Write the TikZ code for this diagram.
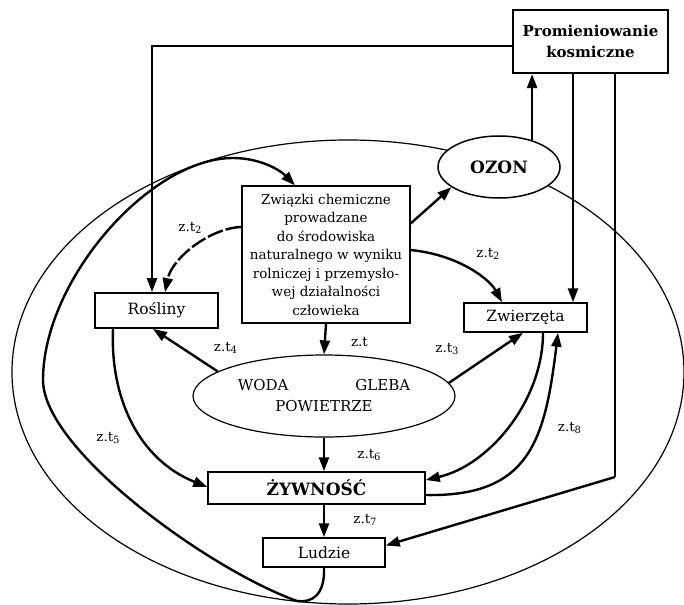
\documentclass[tikz,border=0pt]{standalone}
\usepackage{fontspec}
\setmainfont{DejaVu Serif}
\usetikzlibrary{arrows.meta,shapes.geometric}

% label "z.t" with a small index digit
\newcommand\ztlab[1]{z.t\raisebox{-1.2pt}{\fontsize{10}{10}\selectfont #1}}

\begin{document}
\begin{tikzpicture}[x=1pt,y=1pt,
  box/.style={draw,line width=1.3pt,inner sep=0pt,align=center},
  arr/.style={line width=2.4pt,-{Triangle[length=14pt,width=10pt]}},
  thickline/.style={line width=2.4pt},
  thinline/.style={line width=1.2pt},
  lab/.style={font=\fontsize{13.5}{14}\selectfont,inner sep=0pt},
  txt/.style={font=\fontsize{15.5}{18}\selectfont}]

\useasboundingbox (0,0) rectangle (684,-604);

% outer loop of the environment
\begin{scope}
  \clip (0,0) rectangle (684,-604);
  \draw[thinline] (348,-372) ellipse [x radius=336, y radius=232];
\end{scope}

% nodes
\node[box,line width=2.2pt,minimum width=155pt,minimum height=63pt,
      font=\bfseries\fontsize{15}{21}\selectfont] (prom) at (590.5,-41.5)
      {Promieniowanie\\kosmiczne};
\node[draw,ellipse,fill=white,line width=1.5pt,inner sep=0pt,
      minimum width=122pt,minimum height=62pt,
      font=\bfseries\fontsize{17}{20}\selectfont] (ozon) at (499,-167) {OZON};
\node[box,line width=1.3pt,minimum width=168pt,minimum height=137pt,
      font=\fontsize{13.5}{18.5}\selectfont] (chem) at (326,-254.5)
      {Związki chemiczne\\prowadzane\\do środowiska\\naturalnego w wyniku\\
       rolniczej i przemysło-\\wej działalności\\człowieka};
\node[box,line width=1.8pt,minimum width=123pt,minimum height=35pt,txt] (ros) at (156.5,-310.5) {Rośliny};
\node[box,line width=1.5pt,minimum width=123pt,minimum height=29pt,txt] (zw) at (525.5,-317.5) {Zwierzęta};
\node[draw,ellipse,line width=1.2pt,inner sep=0pt,minimum width=262pt,minimum height=82pt,
      align=center,font=\fontsize{15}{21}\selectfont] (env) at (324,-396)
      {WODA\hspace{67pt}GLEBA\\POWIETRZE};
\node[box,line width=1.5pt,minimum width=217pt,minimum height=32pt,
      font=\bfseries\fontsize{17}{20}\selectfont] (zyw) at (316.5,-488) {ŻYWNOŚĆ};
\node[box,line width=1.5pt,minimum width=122pt,minimum height=29pt,txt] (lud) at (324,-552.5) {Ludzie};

% helper points for the elbow lines
\coordinate (cl) at (152,-46);
\coordinate (xz) at (573,0);
\coordinate (cr) at (615,-477);

% radiation lines
\draw[thinline] ([yshift=-4.5pt]prom.west) -- (cl);
\draw[arr] ([yshift=0.6pt]cl) -- (ros.north -| cl);
\draw[arr] (ozon.39.5) -- (ozon.39.5 |- prom.south);
\draw[arr] (prom.south -| xz) -- (zw.north -| xz);
\draw[thinline] (prom.south -| cr) -- (cr);
\draw[arr] (cr) -- ([yshift=7pt]lud.east);

% chemicals
\draw[arr] ([yshift=31pt]chem.east) -- (ozon.203);
\draw[arr] ([yshift=4.5pt]chem.east) .. controls (460,-255) and (490,-280) .. ([xshift=-23.5pt]zw.north);
\draw[arr,dash pattern=on 16pt off 3pt] ([yshift=27.5pt]chem.west) .. controls (210,-228) and (172,-258) .. ([xshift=8.5pt]ros.north);
\draw[arr] (chem.south) -- (env.north);

% environment
\draw[arr] (env.167.4) -- ([xshift=-3.5pt]ros.south);
\draw[arr] (env.6.6) -- ([xshift=-2.5pt]zw.south);
\draw[arr] (env.south) -- (env.south |- zyw.north);

% food chain
\draw[arr] ([xshift=-43.5pt]ros.south) .. controls (110,-400) and (140,-460) .. ([yshift=1pt]zyw.west);
\draw[arr] ([xshift=17.5pt]zw.south) .. controls (543,-400) and (490,-465) .. ([yshift=8pt]zyw.east);
\draw[arr] ([yshift=-7pt]zyw.east) .. controls (530,-497) and (545,-440) .. ([xshift=32.5pt]zw.south);
\draw[arr] (lud.north |- zyw.south) -- (lud.north);

% return loop from people to chemicals
\draw[arr] (lud.south) .. controls (325,-595) and (312,-603) .. (297,-601)
  .. controls (210,-570) and (43,-450) .. (43,-380)
  .. controls (43,-280) and (150,-158) .. (233,-158)
  .. controls (260,-158) and (280,-170) .. ([xshift=-31pt]chem.north);

% labels
\node[lab] (l1) at (190,-228) {\ztlab{2}};
\node[lab] (l2) at (488,-254) {\ztlab{2}};
\node[lab] (l3) at (359.5,-342) {z.t};
\node[lab] (l4) at (225.5,-348) {\ztlab{4}};
\node[lab] (l5) at (447,-349) {\ztlab{3}};
\node[lab] (l6) at (108,-438) {\ztlab{5}};
\node[lab] (l7) at (369,-455) {\ztlab{6}};
\node[lab] (l8) at (365,-520) {\ztlab{7}};
\node[lab] (l9) at (569.5,-428) {\ztlab{8}};
\end{tikzpicture}
\end{document}
